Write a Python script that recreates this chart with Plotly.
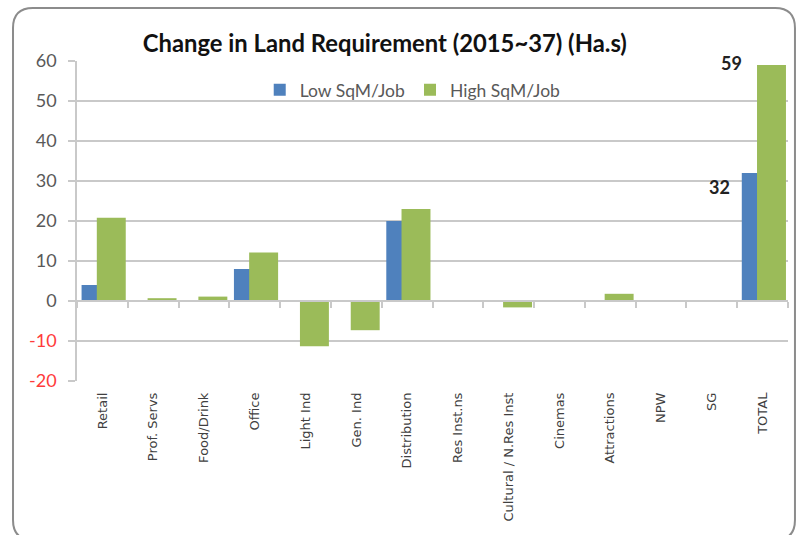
import plotly.graph_objects as go

categories = ["Retail", "Prof. Servs", "Food/Drink", "Office", "Light Ind", "Gen. Ind",
              "Distribution", "Res Inst.ns", "Cultural / N.Res Inst", "Cinemas",
              "Attractions", "NPW", "SG", "TOTAL"]
low_sqm = [4, 0, 0, 8, 0, 0, 20, 0, 0, 0, 0, 0, 0, 32]
high_sqm = [20.8, 0.7, 1.1, 12.1, -11.3, -7.3, 23, 0, -1.6, 0, 1.8, 0, 0, 59]
y_ticks = [-20, -10, 0, 10, 20, 30, 40, 50, 60]
title_text = "Change in Land Requirement (2015~37) (Ha.s)"

BLUE = "#4f81bd"
GREEN = "#9bbb59"
GRID = "#c9c9c9"
FONT = "Lato, 'Open Sans', sans-serif"
XFONT = "'DejaVu Sans', sans-serif"

fig = go.Figure()
fig.add_trace(go.Bar(x=categories, y=low_sqm, name="Low SqM/Job", marker_color=BLUE,
                     marker_line_width=0, width=0.57, offset=-0.41, xaxis="x", yaxis="y"))
fig.add_trace(go.Bar(x=categories, y=high_sqm, name="High SqM/Job", marker_color=GREEN,
                     marker_line_width=0, width=0.57, offset=-0.11, xaxis="x2", yaxis="y"))

ticktext = [
    (f'<span style="color:#ff3b3b">{v}</span>' if v < 0 else str(v)) for v in y_ticks
]

ymin, ymax = y_ticks[0], y_ticks[-1]
zero_pos = (0 - ymin) / (ymax - ymin)

fig.update_layout(
    width=796, height=535,
    margin=dict(l=77, r=8, t=61, b=154, autoexpand=False),
    paper_bgcolor="white", plot_bgcolor="white",
    barmode="overlay",
    showlegend=True,
    title=dict(text=f"<b>{title_text}</b>", x=0.433, xanchor="center", y=0.918, yanchor="middle",
               xref="paper",
               font=dict(family=FONT, size=23.8, color="#111111")),
    legend=dict(orientation="h", x=0.257, y=0.91, xanchor="left", yanchor="middle",
                font=dict(family=FONT, size=17.5, color="#595959"), bgcolor="rgba(0,0,0,0)",
                itemwidth=30, tracegroupgap=0),
    font=dict(family=FONT),
    xaxis=dict(
        type="category", categoryorder="array", categoryarray=categories,
        range=[-0.5, len(categories) - 0.5], automargin=False,
        showgrid=False, zeroline=False, showline=False, ticks="",
        tickangle=-90, tickfont=dict(family=XFONT, size=13, color="#404040"),
        ticklabelstandoff=8,
    ),
    xaxis2=dict(
        type="category", overlaying="x", matches="x", anchor="free", position=zero_pos,
        categoryorder="array", categoryarray=categories, automargin=False,
        showticklabels=False, showgrid=False, zeroline=False,
        showline=True, linecolor=GRID, linewidth=1.5,
        ticks="outside", ticklen=6, tickcolor=GRID, tickwidth=1.5, tickson="boundaries",
    ),
    yaxis=dict(
        range=[ymin, ymax], tickvals=y_ticks, ticktext=ticktext, automargin=False,
        showgrid=True, gridcolor=GRID, gridwidth=1.5, zeroline=False,
        showline=True, linecolor=GRID, linewidth=1.5,
        ticks="outside", ticklen=7, tickcolor=GRID, tickwidth=1.5,
        tickfont=dict(family=FONT, size=18, color="#595959"),
        ticklabelstandoff=8,
    ),
)

# Data labels for TOTAL
fig.add_annotation(x=categories[-1], y=high_sqm[-1], xref="x", yref="y", text=f"<b>{high_sqm[-1]:.0f}</b>",
                   showarrow=False, xshift=-31, yshift=2, font=dict(family=FONT, size=18, color="#222222"))
fig.add_annotation(x=categories[-1], y=low_sqm[-1], xref="x", yref="y", text=f"<b>{low_sqm[-1]:.0f}</b>",
                   showarrow=False, xshift=-43, yshift=-14, font=dict(family=FONT, size=18, color="#222222"))

# Rounded chart frame
x0, x1 = -0.09, 1.0098
y0, y1 = -0.497, 1.1656
rx, ry = 0.028, 0.0625
path = (f"M {x0},{y0 + ry} L {x0},{y1 - ry} Q {x0},{y1} {x0 + rx},{y1} "
        f"L {x1 - rx},{y1} Q {x1},{y1} {x1},{y1 - ry} L {x1},{y0 + ry} "
        f"Q {x1},{y0} {x1 - rx},{y0} L {x0 + rx},{y0} Q {x0},{y0} {x0},{y0 + ry} Z")
fig.add_shape(type="path", path=path, xref="paper", yref="paper",
              line=dict(color="#8c8c8c", width=2), layer="below")

fig.write_html("out.html", config={"displayModeBar": False},
               post_script="document.body.style.margin='0';document.body.style.overflow='hidden';")
